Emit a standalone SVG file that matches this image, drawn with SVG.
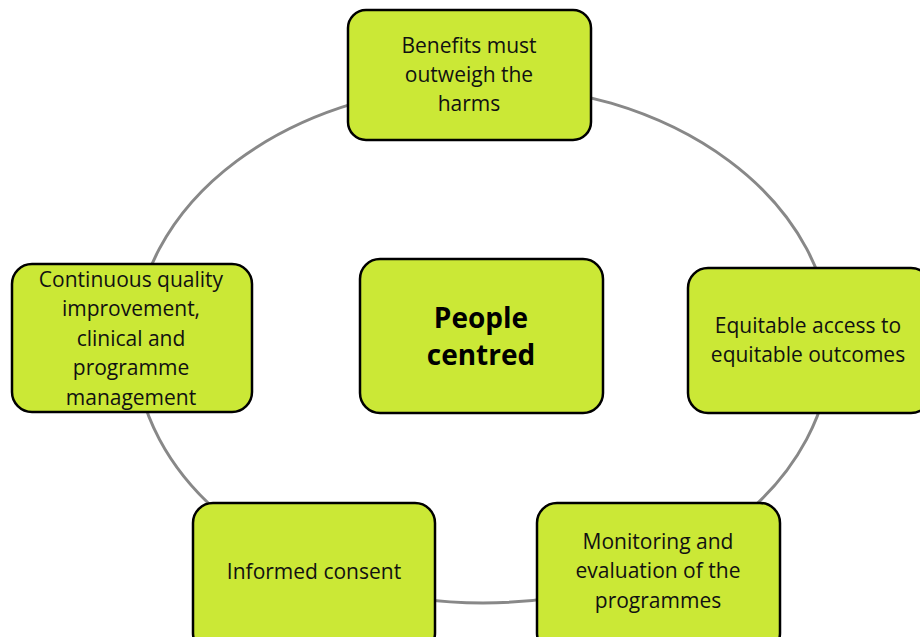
<svg xmlns="http://www.w3.org/2000/svg" width="920" height="637" viewBox="0 0 920 637">
<style>
.box{fill:#cbe836;stroke:#000;stroke-width:2.5}
.t{font-family:"Open Sans",Lato,sans-serif;font-size:21px;fill:#111;text-anchor:middle}
.b{font-family:"Open Sans",Lato,sans-serif;font-size:28px;font-weight:bold;fill:#000;text-anchor:middle}
</style>
<rect width="920" height="637" fill="#fff"/>
<g id="connectors">
<ellipse cx="483" cy="344" rx="348" ry="259" fill="none" stroke="#888" stroke-width="3"/>
</g>
<g id="benefits">
<rect class="box" x="348" y="10" width="243" height="130" rx="18"/>
<text class="t" x="469" y="53">Benefits must</text>
<text class="t" x="469" y="82">outweigh the</text>
<text class="t" x="469" y="111">harms</text>
</g>
<g id="people">
<rect class="box" x="360" y="259" width="243" height="154" rx="20"/>
<text class="b" x="481" y="328">People</text>
<text class="b" x="481" y="365">centred</text>
</g>
<g id="equitable">
<rect class="box" x="688" y="268" width="243" height="145" rx="20"/>
<text class="t" x="808" y="333">Equitable access to</text>
<text class="t" x="808" y="362">equitable outcomes</text>
</g>
<g id="continuous">
<rect class="box" x="12" y="264" width="240" height="148" rx="20"/>
<text class="t" x="131" y="287">Continuous quality</text>
<text class="t" x="131" y="316">improvement,</text>
<text class="t" x="131" y="346">clinical and</text>
<text class="t" x="131" y="375">programme</text>
<text class="t" x="131" y="405">management</text>
</g>
<g id="consent">
<rect class="box" x="193" y="503" width="242" height="150" rx="20"/>
<text class="t" x="314" y="579">Informed consent</text>
</g>
<g id="monitoring">
<rect class="box" x="537" y="503" width="243" height="150" rx="20"/>
<text class="t" x="658" y="549">Monitoring and</text>
<text class="t" x="658" y="578">evaluation of the</text>
<text class="t" x="658" y="608">programmes</text>
</g>
</svg>
